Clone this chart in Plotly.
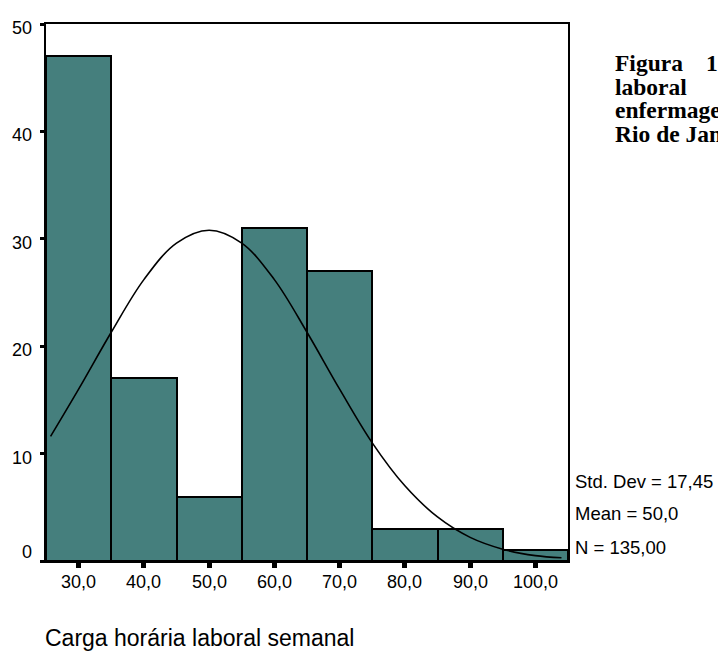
import plotly.graph_objects as go

# Histogram of weekly working hours (bin width 10)
bin_centers = [30, 40, 50, 60, 70, 80, 90, 100]
counts = [47, 17, 6, 31, 27, 3, 3, 1]

# Fitted normal curve, points along the drawn line
curve_x = [25.7, 30, 35, 40, 45, 50, 55, 60, 65, 70, 75, 80, 85, 90, 95, 100, 104]
curve_y = [11.6, 16.0, 21.3, 26.2, 29.6, 30.8, 29.6, 26.2, 21.3, 16.0, 11.0, 7.0, 4.1, 2.2, 1.1, 0.5, 0.3]

x_tick_vals = [30, 40, 50, 60, 70, 80, 90, 100]
x_tick_text = ["30,0", "40,0", "50,0", "60,0", "70,0", "80,0", "90,0", "100,0"]
y_tick_vals = [0, 10, 20, 30, 40, 50]
y_tick_text = ["0", "10", "20", "30", "40", "50"]

stats_lines = ["Std. Dev = 17,45", "Mean = 50,0", "N = 135,00"]
caption_lines = ["Figura", "laboral", "enfermagem", "Rio de Janeiro"]
x_title = "Carga horária laboral semanal"

SANS = "Liberation Sans, Arial, sans-serif"
SERIF = "Liberation Serif, Times New Roman, serif"
BAR_COLOR = "#457f7d"

fig = go.Figure()
fig.add_trace(go.Bar(
    x=bin_centers, y=counts, width=10,
    marker=dict(color=BAR_COLOR, line=dict(color="black", width=2)),
    showlegend=False,
))
fig.add_trace(go.Scatter(
    x=curve_x, y=curve_y, mode="lines",
    line=dict(color="black", width=1.6, shape="spline"),
    showlegend=False,
))

annotations = []
# y tick labels (SPSS style: zero label sits above its tick)
for v, t in zip(y_tick_vals, y_tick_text):
    annotations.append(dict(
        xref="paper", yref="y", x=0, y=v, text=t, showarrow=False,
        xanchor="right", yanchor="middle", xshift=-12,
        yshift=(9 if v == 0 else -4),
        font=dict(family=SANS, size=18, color="black"),
    ))
# x tick labels
for v, t in zip(x_tick_vals, x_tick_text):
    annotations.append(dict(
        xref="x", yref="paper", x=v, y=0, text=t, showarrow=False,
        xanchor="center", yanchor="middle", yshift=-21,
        font=dict(family=SANS, size=18, color="black"),
    ))
# axis title
annotations.append(dict(
    xref="paper", yref="paper", x=0, y=0, text=x_title, showarrow=False,
    xanchor="left", yanchor="middle", xshift=-3, yshift=-77,
    font=dict(family=SANS, size=23, color="black"),
))
# summary statistics
for i, s in enumerate(stats_lines):
    annotations.append(dict(
        xref="paper", yref="paper", x=1, y=0, text=s, showarrow=False,
        xanchor="left", yanchor="middle", xshift=5, yshift=[80, 48, 14][i],
        font=dict(family=SANS, size=18.5, color="black"),
    ))
# figure caption text beside the chart
for i, s in enumerate(caption_lines):
    annotations.append(dict(
        xref="paper", yref="paper", x=1, y=1, text="<b>%s</b>" % s, showarrow=False,
        xanchor="left", yanchor="middle", xshift=45, yshift=-(39 + 23.6 * i),
        font=dict(family=SERIF, size=23.5, color="black"),
    ))
annotations.append(dict(
    xref="paper", yref="paper", x=1, y=1, text="<b>1</b>", showarrow=False,
    xanchor="left", yanchor="middle", xshift=136, yshift=-39,
    font=dict(family=SERIF, size=23.5, color="black"),
))

fig.update_layout(
    width=718, height=652,
    margin=dict(l=46, r=150, t=24, b=91),
    paper_bgcolor="white", plot_bgcolor="white",
    bargap=0,
    annotations=annotations,
    xaxis=dict(
        range=[25, 105], tickvals=x_tick_vals, showticklabels=False,
        ticks="outside", ticklen=5, tickwidth=5, tickcolor="black",
        showline=True, linecolor="black", linewidth=2, mirror=True,
        showgrid=False, zeroline=False, fixedrange=True,
    ),
    yaxis=dict(
        range=[0, 50], tickvals=y_tick_vals, showticklabels=False,
        ticks="outside", ticklen=4, tickwidth=3, tickcolor="black",
        showline=True, linecolor="black", linewidth=2, mirror=True,
        showgrid=False, zeroline=False, fixedrange=True,
    ),
)

fig.write_html("out.html")
